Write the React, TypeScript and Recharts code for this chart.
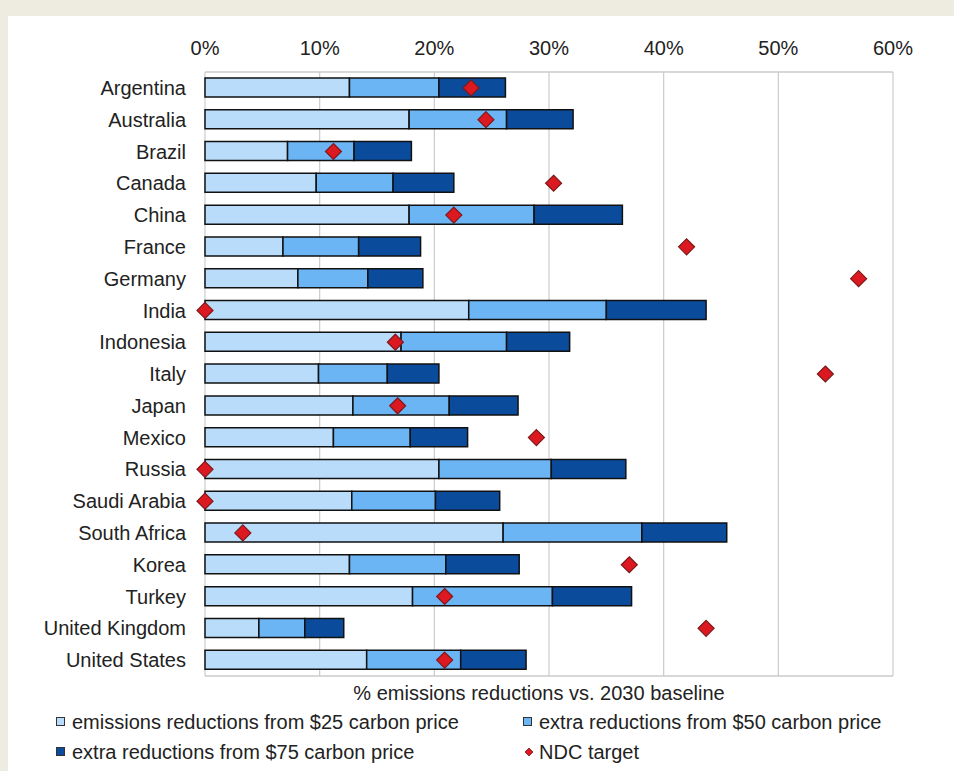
import React from 'react';
import {
  ComposedChart,
  Bar,
  Scatter,
  XAxis,
  YAxis,
  CartesianGrid,
  Legend,
} from 'recharts';

const countries = [
  'Argentina', 'Australia', 'Brazil', 'Canada', 'China', 'France', 'Germany',
  'India', 'Indonesia', 'Italy', 'Japan', 'Mexico', 'Russia', 'Saudi Arabia',
  'South Africa', 'Korea', 'Turkey', 'United Kingdom', 'United States',
];
const price25 = [12.6, 17.8, 7.2, 9.7, 17.8, 6.8, 8.1, 23.0, 17.1, 9.9, 12.9, 11.2, 20.4, 12.8, 26.0, 12.6, 18.1, 4.7, 14.1];
const extra50 = [7.8, 8.5, 5.8, 6.7, 10.9, 6.6, 6.1, 12.0, 9.2, 6.0, 8.4, 6.7, 9.8, 7.3, 12.1, 8.4, 12.2, 4.0, 8.2];
const extra75 = [5.8, 5.8, 5.0, 5.3, 7.7, 5.4, 4.8, 8.7, 5.5, 4.5, 6.0, 5.0, 6.5, 5.6, 7.4, 6.4, 6.9, 3.4, 5.7];
const ndcTarget = [23.2, 24.5, 11.2, 30.4, 21.7, 42.0, 57.0, 0, 16.6, 54.1, 16.8, 28.9, 0, 0, 3.3, 37.0, 20.9, 43.7, 20.9];
const xTicks = [0, 10, 20, 30, 40, 50, 60];

const seriesNames = {
  s25: 'emissions reductions from $25 carbon price',
  e50: 'extra reductions from $50 carbon price',
  e75: 'extra reductions from $75 carbon price',
  ndc: 'NDC target',
};
const axisTitle = '% emissions reductions vs. 2030 baseline';

const C_LIGHT = '#b9dcfa';
const C_MED = '#6cb5f5';
const C_DARK = '#0b4b9c';
const C_RED = '#dc1820';
const C_RED_EDGE = '#7c1a1a';
const FONT = '"Liberation Sans", Arial, sans-serif';
const TEXT = '#222';
const GRID = '#cbcbcb';

const data = countries.map((name, i) => ({
  name,
  s25: price25[i],
  e50: extra50[i],
  e75: extra75[i],
  ndc: ndcTarget[i],
}));

const Diamond = (props: any) => {
  const { cx, cy } = props;
  if (cx == null || cy == null) return null;
  const r = 8;
  return (
    <path
      d={`M${cx},${cy - r}L${cx + r},${cy}L${cx},${cy + r}L${cx - r},${cy}Z`}
      fill={C_RED}
      stroke={C_RED_EDGE}
      strokeWidth={1.2}
    />
  );
};

const legendItems = [
  { key: 's25', label: seriesNames.s25, color: C_LIGHT, kind: 'square', col: 0, row: 0 },
  { key: 'e50', label: seriesNames.e50, color: C_MED, kind: 'square', col: 1, row: 0 },
  { key: 'e75', label: seriesNames.e75, color: C_DARK, kind: 'square', col: 0, row: 1 },
  { key: 'ndc', label: seriesNames.ndc, color: C_RED, kind: 'diamond', col: 1, row: 1 },
];

const renderLegend = () => (
  <div style={{ position: 'relative', width: 954, height: 64, fontFamily: FONT }}>
    {legendItems.map((it) => {
      const left = it.col === 0 ? 54 : 521;
      const top = it.row === 0 ? 4 : 34;
      return (
        <div
          key={it.key}
          style={{
            position: 'absolute',
            left,
            top,
            height: 26,
            display: 'flex',
            alignItems: 'center',
            whiteSpace: 'nowrap',
          }}
        >
          <svg width={16} height={16} style={{ marginRight: 2 }}>
            {it.kind === 'square' ? (
              <rect x={2.5} y={3.5} width={8} height={8} fill={it.color} stroke="#333" strokeWidth={1} />
            ) : (
              <path d="M8,4L12,8L8,12L4,8Z" fill={it.color} stroke={C_RED_EDGE} strokeWidth={0.8} />
            )}
          </svg>
          <span style={{ fontSize: 20, color: TEXT }}>{it.label}</span>
        </div>
      );
    })}
  </div>
);

export default function App() {
  return (
    <div
      style={{
        position: 'fixed',
        left: 0,
        top: 0,
        width: 954,
        height: 771,
        background: '#eeebe0',
        overflow: 'hidden',
      }}
    >
      <div style={{ position: 'absolute', left: 8, top: 16, width: 946, height: 755, background: '#ffffff' }} />
      <div style={{ position: 'absolute', left: 0, top: 0 }}>
        <ComposedChart
          width={954}
          height={771}
          data={data}
          layout="vertical"
          margin={{ top: 32, right: 61, bottom: 63, left: 5 }}
          style={{ fontFamily: FONT }}
        >
          <CartesianGrid horizontal={false} vertical stroke={GRID} strokeWidth={1.2} />
          <XAxis
            type="number"
            orientation="top"
            domain={[0, 60]}
            ticks={xTicks}
            tickFormatter={(v: number) => `${v}%`}
            height={40}
            tickLine={false}
            tickSize={6}
            tickMargin={11}
            axisLine={{ stroke: GRID, strokeWidth: 1.5 }}
            tick={{ fontSize: 20, fill: TEXT, fontFamily: FONT }}
            interval={0}
          />
          <XAxis
            xAxisId="b"
            type="number"
            orientation="bottom"
            domain={[0, 60]}
            ticks={xTicks}
            height={32}
            tick={false}
            tickLine={false}
            axisLine={{ stroke: GRID, strokeWidth: 1.5 }}
            label={{
              value: axisTitle,
              position: 'center',
              dx: -10,
              dy: 1,
              fontSize: 20,
              fill: TEXT,
              fontFamily: FONT,
            }}
          />
          <YAxis
            type="category"
            dataKey="name"
            width={200}
            interval={0}
            tickLine={false}
            axisLine={false}
            tickSize={6}
            tickMargin={13}
            tick={{ fontSize: 20, fill: TEXT, fontFamily: FONT }}
          />
          <Bar dataKey="s25" name={seriesNames.s25} stackId="a" fill={C_LIGHT} stroke="#111" strokeWidth={1.5} barSize={19} isAnimationActive={false} />
          <Bar dataKey="e50" name={seriesNames.e50} stackId="a" fill={C_MED} stroke="#111" strokeWidth={1.5} barSize={19} isAnimationActive={false} />
          <Bar dataKey="e75" name={seriesNames.e75} stackId="a" fill={C_DARK} stroke="#111" strokeWidth={1.5} barSize={19} isAnimationActive={false} />
          <Scatter dataKey="ndc" name={seriesNames.ndc} fill={C_RED} shape={Diamond} isAnimationActive={false} />
          <Legend
            layout="vertical"
            align="center"
            verticalAlign="middle"
            content={renderLegend}
            wrapperStyle={{ position: 'absolute', left: 0, top: 705, width: 954, height: 64, margin: 0 }}
          />
        </ComposedChart>
      </div>
    </div>
  );
}
